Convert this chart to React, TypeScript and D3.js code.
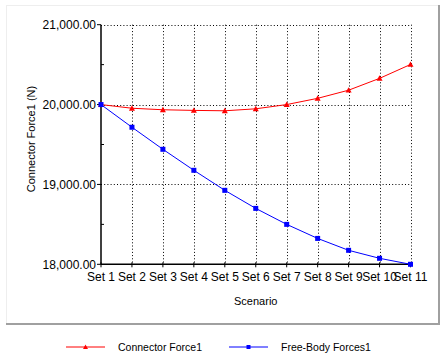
import * as d3 from "d3";

const sets = ["Set 1", "Set 2", "Set 3", "Set 4", "Set 5", "Set 6", "Set 7", "Set 8", "Set 9", "Set 10", "Set 11"];
const connectorForce = [20000, 19954, 19935, 19927, 19922, 19947, 20000, 20078, 20180, 20328, 20502];
const freeBodyForces = [20000, 19716, 19440, 19177, 18926, 18700, 18500, 18324, 18175, 18075, 18000];
const yMajorTicks = [18000, 19000, 20000, 21000];
const yMinorTicks = [18500, 19500, 20500];

const width = 446;
const height = 358;
const font = "'Liberation Sans', Arial, sans-serif";

export default function App() {
  const x = d3.scalePoint<string>().domain(sets).range([101, 410.5]);
  const y = d3.scaleLinear().domain([18000, 21000]).range([264.3, 24.7]);
  const fmt = d3.format(",.2f");

  const line = d3
    .line<number>()
    .x((_, i) => x(sets[i])!)
    .y((d) => y(d));

  const xl = x(sets[0])!;
  const xr = x(sets[sets.length - 1])!;
  const yb = y(18000);
  const yt = y(21000);

  const series = [
    { name: "Connector Force1", values: connectorForce, color: "#ff0000", marker: "tri" },
    { name: "Free-Body Forces1", values: freeBodyForces, color: "#0000ff", marker: "sq" },
  ];

  const marker = (kind: string, cx: number, cy: number, color: string, s: number) =>
    kind === "tri" ? (
      <path d={`M${cx},${cy - s}L${cx + s},${cy + s * 0.8}L${cx - s},${cy + s * 0.8}Z`} fill={color} />
    ) : (
      <rect x={cx - s} y={cy - s} width={s * 2} height={s * 2} fill={color} />
    );

  return (
    <svg
      width={width}
      height={height}
      style={{ position: "absolute", left: 0, top: 0, background: "#fff" }}
      fontFamily={font}
      fontSize={12}
    >
      {/* panel frame */}
      <line x1={6} y1={5.5} x2={438} y2={5.5} stroke="#eeeeee" />
      <line x1={6.5} y1={5} x2={6.5} y2={324} stroke="#eeeeee" />
      <line x1={6} y1={324} x2={440} y2={324} stroke="#a0a0a0" strokeWidth={2} />
      <line x1={439} y1={5} x2={439} y2={325} stroke="#a0a0a0" strokeWidth={2} />

      {/* grid */}
      {yMajorTicks.filter((t) => t !== 18000).map((t) => (
        <line key={t} x1={xl} x2={xr} y1={Math.round(y(t)) + 0.5} y2={Math.round(y(t)) + 0.5}
          stroke="#000" strokeDasharray="1,2.2" />
      ))}
      {sets.slice(1).map((s) => (
        <line key={s} x1={Math.round(x(s)!) + 0.5} x2={Math.round(x(s)!) + 0.5} y1={yt} y2={yb}
          stroke="#000" strokeDasharray="1,2.2" />
      ))}

      {/* axes */}
      <line x1={xl} x2={xl} y1={yt} y2={yb} stroke="#000" strokeWidth={1.5} />
      <line x1={xl} x2={xr + 1} y1={yb} y2={yb} stroke="#000" strokeWidth={1.5} />
      {yMajorTicks.map((t) => (
        <g key={t}>
          <line x1={xl - 4} x2={xl} y1={y(t)} y2={y(t)} stroke="#000" />
          <text x={xl - 5} y={y(t)} dy="0.35em" textAnchor="end">{fmt(t)}</text>
        </g>
      ))}
      {yMinorTicks.map((t) => (
        <line key={t} x1={xl} x2={xl + 3} y1={y(t)} y2={y(t)} stroke="#000" />
      ))}
      {sets.map((s) => (
        <g key={s}>
          <line x1={x(s)} x2={x(s)} y1={yb - 2} y2={yb + 3} stroke="#000" />
          <text x={x(s)} y={yb + 17} textAnchor="middle">{s}</text>
        </g>
      ))}
      <text x={(xl + xr) / 2} y={305} textAnchor="middle" fontSize={11}>Scenario</text>
      <text transform="translate(35,139) rotate(-90)" textAnchor="middle" fontSize={11}>
        Connector Force1 (N)
      </text>

      {/* series */}
      {series.map((sr) => (
        <g key={sr.name}>
          <path d={line(sr.values)!} fill="none" stroke={sr.color} strokeWidth={1} />
          {sr.values.map((v, i) => (
            <g key={i}>{marker(sr.marker, x(sets[i])!, y(v), sr.color, sr.marker === "tri" ? 3 : 2.5)}</g>
          ))}
        </g>
      ))}

      {/* legend */}
      {series.map((sr, i) => {
        const lx = 66 + i * 163;
        const ly = 347;
        return (
          <g key={sr.name}>
            <line x1={lx} x2={lx + 39} y1={ly} y2={ly} stroke={sr.color} />
            {marker(sr.marker, lx + 19.5, ly, sr.color, sr.marker === "tri" ? 2.5 : 2)}
            <text x={lx + 52} y={ly} dy="0.35em" fontSize={10.5}>{sr.name}</text>
          </g>
        );
      })}
    </svg>
  );
}
